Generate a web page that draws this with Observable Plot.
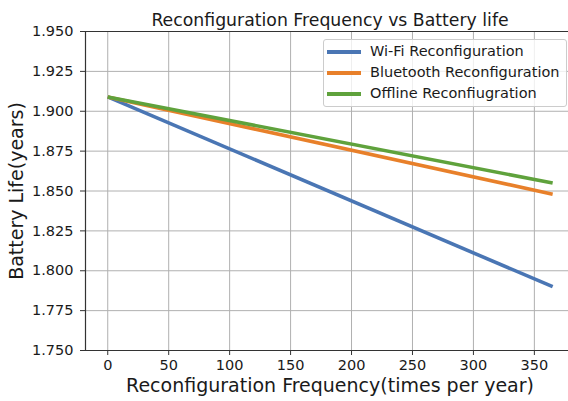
<!DOCTYPE html>
<html>
<head>
<meta charset="utf-8">
<script src="https://cdn.jsdelivr.net/npm/d3@7"></script>
<script src="https://cdn.jsdelivr.net/npm/@observablehq/plot@0.6"></script>
<style>
  html, body { margin: 0; padding: 0; background: #fff; }
  #wrap { position: relative; width: 568px; height: 401px; overflow: hidden; font-family: "DejaVu Sans", sans-serif; }
  #legend { position: absolute; left: 323px; top: 39px; width: 242px; height: 66px; border: 1px solid #cccccc; border-radius: 3px; background: rgba(255,255,255,0.8); box-sizing: content-box; }
  .row { position: absolute; left: 0; height: 20px; width: 100%; }
  .sw { position: absolute; left: 3px; width: 34px; height: 4px; top: 8px; }
  .lab { position: absolute; left: 46px; top: 1px; font-size: 14.5px; color: #1a1a1a; white-space: nowrap; line-height: 17px; }
</style>
</head>
<body>
<div id="wrap"></div>
<script>
// Data
const frequency = [0, 365];
const wifi = [1.909, 1.790];
const bluetooth = [1.909, 1.848];
const offline = [1.909, 1.855];
const seriesNames = ["Wi-Fi Reconfiguration", "Bluetooth Reconfiguration", "Offline Reconfiugration"];
const seriesColors = ["#4a76b4", "#e8802a", "#5fa23c"];
const xTicks = [0, 50, 100, 150, 200, 250, 300, 350];
const yTicks = [1.750, 1.775, 1.800, 1.825, 1.850, 1.875, 1.900, 1.925, 1.950];
const titleText = "Reconfiguration Frequency vs Battery life";
const xLabel = "Reconfiguration Frequency(times per year)";
const yLabel = "Battery Life(years)";

const seriesValues = [wifi, bluetooth, offline];
const rows = [];
seriesValues.forEach((vals, i) => {
  frequency.forEach((f, j) => rows.push({series: seriesNames[i], x: f, y: vals[j]}));
});

const xDomain = [-18.25, 378];
const yDomain = [1.75, 1.95];

const chart = Plot.plot({
  width: 568,
  height: 401,
  marginLeft: 85,
  marginRight: 0,
  marginTop: 31,
  marginBottom: 51,
  style: {fontFamily: "DejaVu Sans, sans-serif", fontSize: "14px", color: "#1a1a1a", background: "white"},
  x: {domain: xDomain, ticks: xTicks},
  y: {domain: yDomain, ticks: yTicks},
  color: {domain: seriesNames, range: seriesColors},
  marks: [
    Plot.gridX(xTicks, {stroke: "#b0b0b0", strokeOpacity: 1, strokeWidth: 1}),
    Plot.gridY(yTicks, {stroke: "#b0b0b0", strokeOpacity: 1, strokeWidth: 1}),
    Plot.axisX(xTicks, {tickSize: 5, tickPadding: 4, label: null, fontSize: 14.5, stroke: "#333"}),
    Plot.axisY(yTicks, {tickSize: 5, tickPadding: 7, label: null, fontSize: 14.5, tickFormat: d3.format(".3f"), stroke: "#333"}),
    Plot.ruleY([yDomain[0], yDomain[1]], {stroke: "#333", strokeWidth: 1.2}),
    Plot.ruleX([xDomain[0]], {stroke: "#333", strokeWidth: 1.2}),
    Plot.line(rows, {x: "x", y: "y", z: "series", stroke: "series", strokeWidth: 3.6, strokeLinecap: "butt"}),
    Plot.text([titleText], {frameAnchor: "top", dx: 3, dy: -18, fontSize: 17.3, fill: "#1a1a1a"}),
    Plot.text([xLabel], {frameAnchor: "bottom", dx: 3, dy: 41, fontSize: 19, fill: "#1a1a1a"}),
    Plot.text([yLabel], {frameAnchor: "left", textAnchor: "middle", dx: -69, rotate: -90, fontSize: 19, fill: "#1a1a1a"})
  ]
});

const wrap = document.getElementById("wrap");
wrap.appendChild(chart);

const legend = document.createElement("div");
legend.id = "legend";
seriesNames.forEach((name, i) => {
  const row = document.createElement("div");
  row.className = "row";
  row.style.top = (2 + i * 21) + "px";
  const sw = document.createElement("div");
  sw.className = "sw";
  sw.style.background = seriesColors[i];
  const lab = document.createElement("div");
  lab.className = "lab";
  lab.textContent = name;
  row.appendChild(sw);
  row.appendChild(lab);
  legend.appendChild(row);
});
wrap.appendChild(legend);
</script>
</body>
</html>
